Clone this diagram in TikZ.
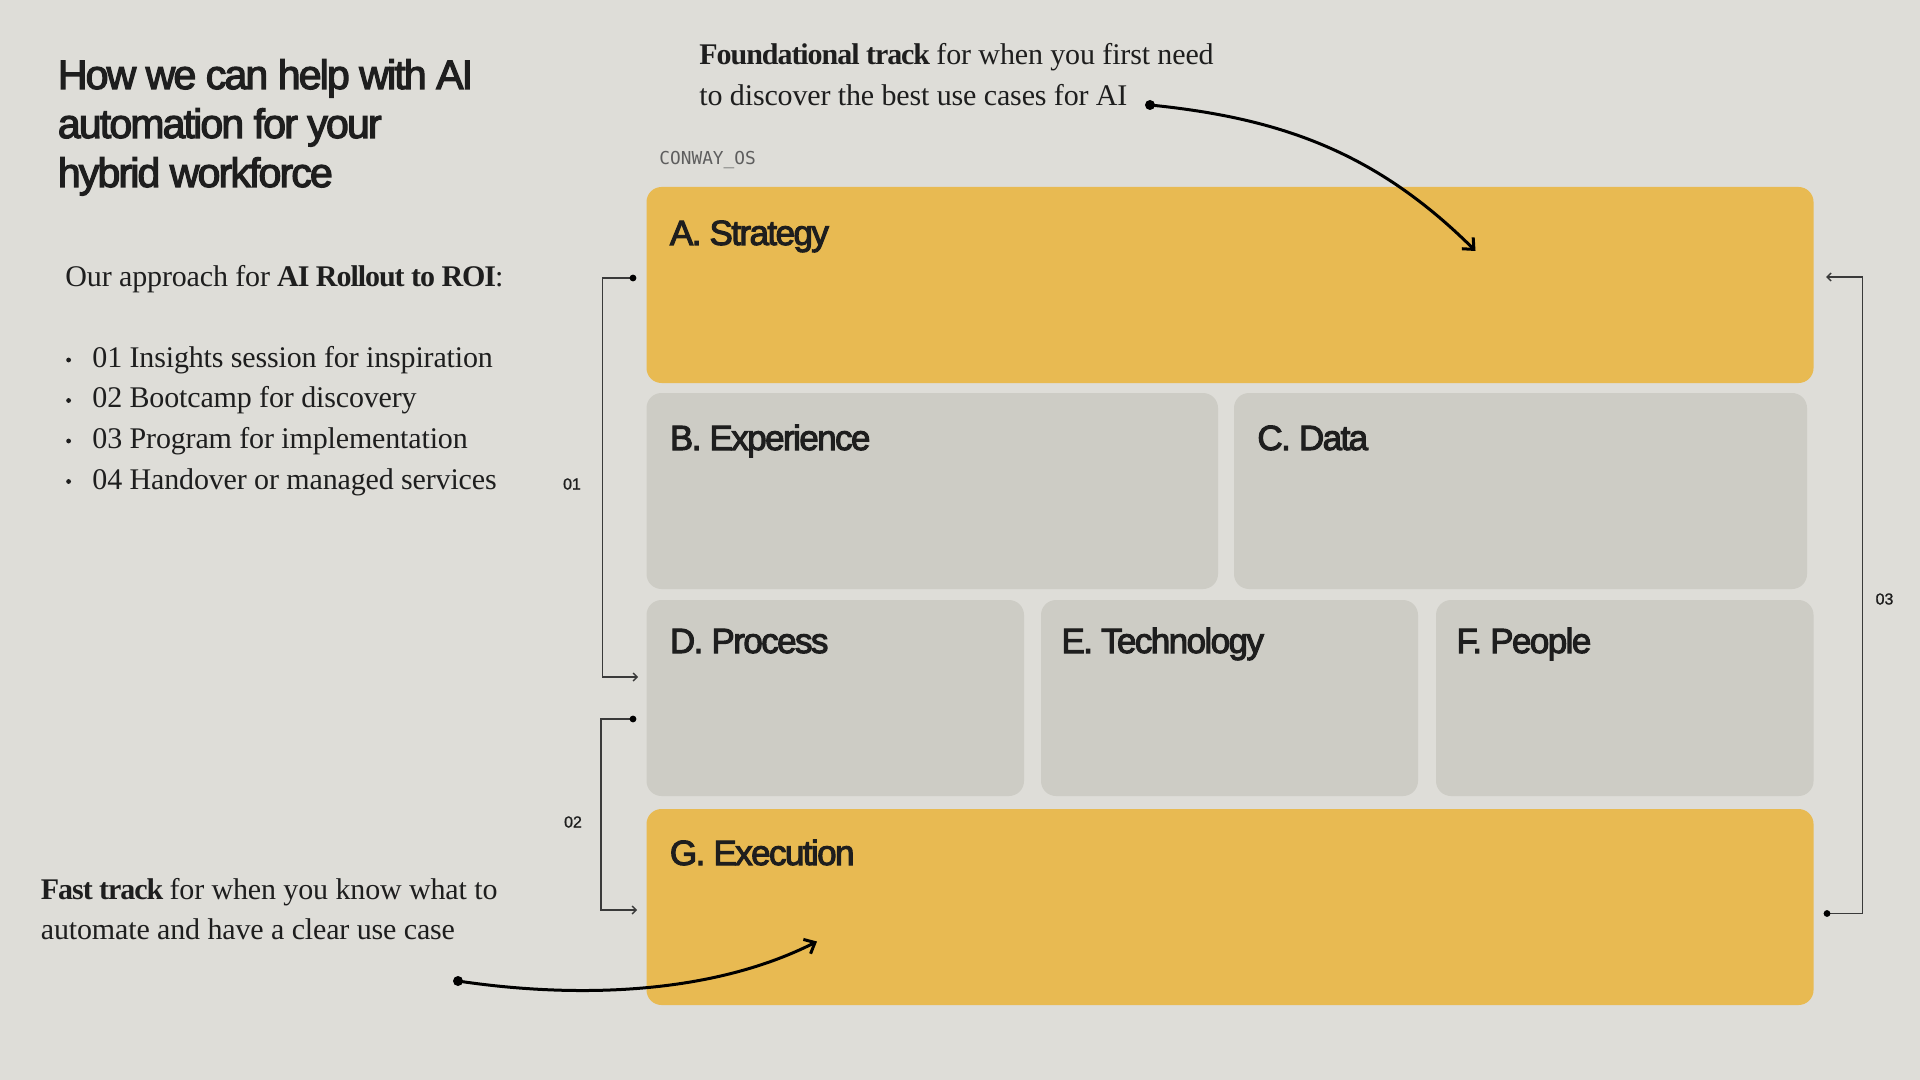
\documentclass[tikz,border=0pt]{standalone}
\usepackage{fontspec}
\usetikzlibrary{arrows.meta}
\setmainfont{Liberation Serif}
\newfontfamily\headfont{Liberation Sans}[FakeBold=3,LetterSpace=-4.5]
\newfontfamily\bodyfont{Liberation Serif}[LetterSpace=-0.5,BoldFeatures={LetterSpace=-3.5}]
\newfontfamily\codefont{DejaVu Sans Mono}
\newfontfamily\tagfont{Liberation Sans}[FakeBold=1]
\definecolor{paper}{HTML}{DEDDD8}
\definecolor{gold}{HTML}{E8BA52}
\definecolor{stone}{HTML}{CDCCC5}
\definecolor{ink}{HTML}{1E1E1E}
\definecolor{wire}{HTML}{3A3A3A}
\definecolor{codegray}{HTML}{5E5E5E}

\begin{document}
\begin{tikzpicture}[x=0.5pt,y=-0.5pt,
  heading/.style={font=\headfont\fontsize{20.5pt}{24pt}\selectfont, text=ink, anchor=base west, inner sep=0pt},
  tilename/.style={font=\headfont\fontsize{17.5pt}{21pt}\selectfont, text=ink, anchor=base west, inner sep=0pt},
  body/.style={font=\bodyfont\fontsize{15pt}{20pt}\selectfont, text=ink, anchor=base west, inner sep=0pt},
  tag/.style={font=\tagfont\fontsize{8pt}{9pt}\selectfont, text=ink, inner sep=0pt},
  tile/.style={rounded corners=7.5pt},
  bracket/.style={wire, line width=0.7pt},
  track/.style={black, line width=1.5pt, -{Straight Barb[length=4.5pt,width=8pt]}}]
\useasboundingbox (0,0) rectangle (1920,1080);
\fill[paper] (0,0) rectangle (1920,1080);

\node[heading] (title1) at (57.5,89) {How we can help with AI};
\node[heading] (title2) at (57.5,138) {automation for your};
\node[heading] (title3) at (57.5,187) {hybrid workforce};

\node[body] (approach) at (65,287) {Our approach for \textbf{AI Rollout to ROI}:};
\fill[ink] (68.6,360) circle (1.2pt);
\node[body] (step1) at (92,367.5) {01 Insights session for inspiration};
\fill[ink] (68.6,400.5) circle (1.2pt);
\node[body] (step2) at (92,408) {02 Bootcamp for discovery};
\fill[ink] (68.6,441) circle (1.2pt);
\node[body] (step3) at (92,448.5) {03 Program for implementation};
\fill[ink] (68.6,481.5) circle (1.2pt);
\node[body] (step4) at (92,489) {04 Handover or managed services};

\node[body] (found1) at (699,65) {\textbf{Foundational track} for when you first need};
\node[body] (found2) at (699,105.5) {to discover the best use cases for AI};
\node[body] (fast1) at (40.5,899) {\textbf{Fast track} for when you know what to};
\node[body] (fast2) at (40.5,939) {automate and have a clear use case};

\node[font=\codefont\fontsize{8.9pt}{10pt}\selectfont, text=codegray, anchor=base west, inner sep=0pt] (osname) at (659,164.5) {CONWAY\_OS};

\fill[gold, tile] (646.5,187) rectangle (1813.5,383);
\fill[stone, tile] (646.5,393) rectangle (1218,589);
\fill[stone, tile] (1234,393) rectangle (1807,589);
\fill[stone, tile] (646.5,600) rectangle (1024,796);
\fill[stone, tile] (1041,600) rectangle (1418,796);
\fill[stone, tile] (1436,600) rectangle (1813.5,796);
\fill[gold, tile] (646.5,809) rectangle (1813.5,1005);

\node[tilename] (strategy) at (669.5,245) {A. Strategy};
\node[tilename] (experience) at (669.5,450) {B. Experience};
\node[tilename] (data) at (1257,450) {C. Data};
\node[tilename] (process) at (669.5,653) {D. Process};
\node[tilename] (technology) at (1061,653) {E. Technology};
\node[tilename] (people) at (1456,653) {F. People};
\node[tilename] (execution) at (669.5,865) {G. Execution};

\coordinate (one from) at (633,278);
\coordinate (one to) at (638,677);
\coordinate (two from) at (633,719);
\coordinate (two to) at (637,910);
\coordinate (three from) at (1827,913.5);
\coordinate (three to) at (1826,277);
\draw[bracket, -{Straight Barb[length=2pt,width=4pt]}] (one from) -- ++(-30.5,0) |- (one to);
\fill[black] (one from) circle (1.7pt);
\draw[bracket, -{Straight Barb[length=2pt,width=4pt]}] (two from) -- ++(-32,0) |- (two to);
\fill[black] (two from) circle (1.7pt);
\draw[bracket, -{Straight Barb[length=2pt,width=4pt]}] (three from) -- ++(35.5,0) |- (three to);
\fill[black] (three from) circle (1.7pt);
\node[tag] (one) at (572,484) {01};
\node[tag] (two) at (573,822) {02};
\node[tag] (three) at (1884.5,599) {03};

\coordinate (found dot) at (1150,105);
\coordinate (found tip) at (1475.5,251);
\coordinate (fast dot) at (458,981);
\coordinate (fast tip) at (817,941.5);
\draw[track] (found dot) .. controls (1280,118) and (1376,152) .. (found tip);
\fill[black] (found dot) circle (2.5pt);
\draw[track] (fast dot) .. controls (568,997.5) and (707,997) .. (fast tip);
\fill[black] (fast dot) circle (2.5pt);
\end{tikzpicture}
\end{document}
